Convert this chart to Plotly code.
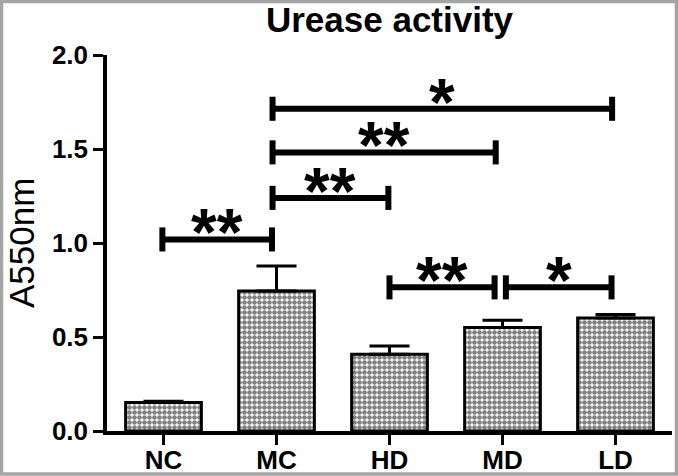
import plotly.graph_objects as go

categories = ["NC", "MC", "HD", "MD", "LD"]
means = [0.151, 0.745, 0.408, 0.55, 0.601]
errors = [0.007, 0.132, 0.044, 0.039, 0.019]

# significance brackets: (left group, right group, height, label)
comp_left = ["NC", "MC", "MC", "MC", "HD", "MD"]
comp_right = ["MC", "HD", "MD", "LD", "MD", "LD"]
comp_height = [1.019, 1.24, 1.482, 1.714, 0.764, 0.764]
comp_label = ["**", "**", "**", "*", "**", "*"]
comp_left_off = [-0.01, -0.035, -0.035, -0.035, 0.0, 0.03]
comp_right_off = [-0.04, -0.01, -0.06, -0.03, -0.07, -0.035]

W, H = 678, 476
ML, MR, MT, MB = 107, 6, 55, 45
PW, PH = W - ML - MR, H - MT - MB
FONT = "Liberation Sans, Arial, sans-serif"

fig = go.Figure()
fig.add_trace(go.Bar(
    x=categories, y=means,
    width=0.67,
    marker=dict(color="white",
                line=dict(color="black", width=3),
                pattern=dict(shape=".", fgcolor="black", bgcolor="white",
                             size=5, solidity=0.68)),
    error_y=dict(type="data", array=errors, arrayminus=[0] * len(errors),
                 symmetric=False, color="black", thickness=3, width=20),
    showlegend=False, hoverinfo="skip",
))

idx = {c: i for i, c in enumerate(categories)}
tick_half = 0.064
for l, r, h, lab, lo, ro in zip(comp_left, comp_right, comp_height, comp_label,
                                comp_left_off, comp_right_off):
    x0, x1 = idx[l] + lo, idx[r] + ro
    fig.add_shape(type="line", x0=x0, x1=x1, y0=h, y1=h, xref="x", yref="y",
                  line=dict(color="black", width=6))
    for xx in (x0, x1):
        fig.add_shape(type="line", x0=xx, x1=xx, y0=h - tick_half, y1=h + tick_half,
                      xref="x", yref="y", line=dict(color="black", width=6))
    fig.add_annotation(x=(x0 + x1) / 2, y=h, xref="x", yref="y", text="<b>%s</b>" % lab,
                       showarrow=False, yanchor="bottom", yshift=-32,
                       font=dict(family=FONT, size=66, color="black"))

# y-axis title
fig.add_annotation(text="A550nm", textangle=-90, xref="paper", yref="paper",
                   x=(21 - ML) / PW, y=0.5, xanchor="center", yanchor="middle",
                   showarrow=False, font=dict(family=FONT, size=35, color="black"))

# outer light-grey frame
fig.add_shape(type="rect", xref="paper", yref="paper",
              x0=-(ML - 1.5) / PW, x1=1 + (MR - 1.5) / PW,
              y0=-(MB - 2) / PH, y1=1 + (MT - 1.5) / PH,
              line=dict(color="#a4a4a4", width=3.5))

fig.update_layout(
    width=W, height=H,
    margin=dict(l=ML, r=MR, t=MT, b=MB, pad=0, autoexpand=False),
    plot_bgcolor="white", paper_bgcolor="white",
    title=dict(text="<b>Urease activity</b>", x=0.5, xref="paper", xanchor="center",
               y=1 - 20 / H, yanchor="middle",
               font=dict(family=FONT, size=35, color="black")),
    font=dict(family=FONT, color="black"),
    xaxis=dict(range=[-0.5, 4.5], showline=True, linecolor="black", linewidth=3.5,
               ticks="outside", ticklen=10, tickwidth=3, tickcolor="black",
               tickfont=dict(size=26, family=FONT), ticklabelstandoff=-7,
               tickprefix="<b>", ticksuffix="</b>", showgrid=False, zeroline=False,
               automargin=False),
    yaxis=dict(range=[0, 2.0], dtick=0.5, tickformat=".1f", showline=True,
               linecolor="black", linewidth=3.5,
               ticks="outside", ticklen=10, tickwidth=3, tickcolor="black",
               tickfont=dict(size=26, family=FONT),
               tickprefix="<b>", ticksuffix="</b>", showgrid=False, zeroline=False,
               automargin=False),
)

fig.write_html("out.html", config={"displayModeBar": False},
               post_script="document.body.style.margin='0';document.body.style.overflow='hidden';")
